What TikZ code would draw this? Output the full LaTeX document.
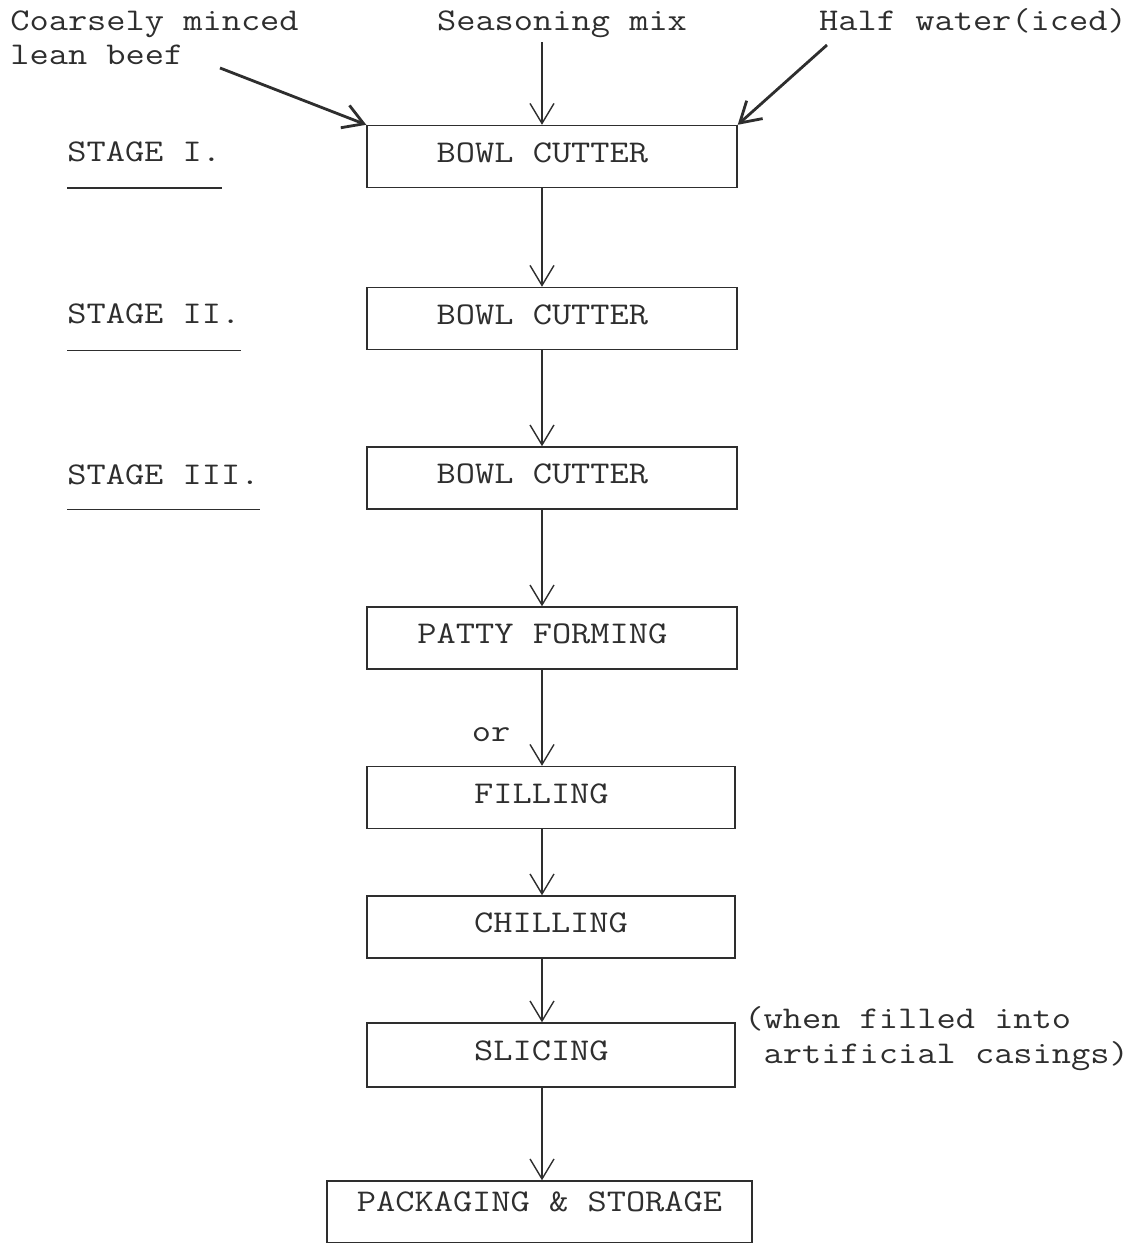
\documentclass[tikz,border=0pt]{standalone}
\usepackage{fontspec}
\setmonofont{Latin Modern Mono}[FakeStretch=1.18]
\usetikzlibrary{arrows.meta,positioning}
\definecolor{ink}{gray}{0.18}

\begin{document}
\begin{tikzpicture}[->,>={Straight Barb[length=4mm,width=4.8mm]},
        font=\ttfamily\fontsize{18pt}{19.8pt}\selectfont, text=ink,
        box/.style={draw=ink, line width=0.8pt, minimum width=7.4cm,
                    minimum height=1.24cm, inner sep=0pt, text depth=0.16cm},
        flow/.style={draw=ink, line width=0.8pt},
        feed/.style={draw=ink, line width=1.6pt},
        stage/.style={anchor=base west, inner sep=0pt},
        rule/.style={-, draw=ink, line width=0.8pt}]

\useasboundingbox (0,0) rectangle (22.76,-24.86);

% process boxes
\node (b1) [box] at (11.04,-3.13) {BOWL CUTTER\phantom{X}};
\node (b2) [box] at (11.04,-6.37) {BOWL CUTTER\phantom{X}};
\node (b3) [box] at (11.04,-9.56) {BOWL CUTTER\phantom{X}};
\node (b4) [box] at (11.04,-12.76) {PATTY FORMING\phantom{X}};
\node (b5) [box, minimum width=7.36cm] at (11.02,-15.95) {FILLING\phantom{X}};
\node (b6) [box, minimum width=7.36cm] at (11.02,-18.54) {CHILLING};
\node (b7) [box, minimum width=7.36cm, minimum height=1.28cm] at (11.02,-21.10) {SLICING\phantom{X}};
\node (b8) [box, minimum width=8.5cm, text depth=0.4cm] at (10.79,-24.24) {PACKAGING \& STORAGE};

% inputs
\node (beef) [anchor=north west, align=left, inner sep=0pt] at (0.2,-0.2) {Coarsely minced\\lean beef};
\node (mix) [anchor=base, inner sep=2pt] at (11.24,-0.62) {Seasoning mix};
\node (water) [anchor=base] at (19.46,-0.62) {Half water(iced)};
\coordinate (col) at (10.84,0);
\coordinate (beefend) at (4.4,-1.36);
\coordinate (waterend) at (16.54,-0.9);

\draw[feed] (beefend) -- (b1.north west);
\draw[feed] (waterend) -- (b1.north east);
\draw[flow] (mix.south -| col) -- (b1.north -| col);

% main line
\foreach \from/\to in {b1/b2, b2/b3, b3/b4, b4/b5, b5/b6, b6/b7, b7/b8}
  \draw[flow] (\from.south -| col) -- (\to.north -| col);

% stages
\node (s1) [stage] at (1.34,-3.24) {STAGE I.};
\node (s2) [stage] at (1.34,-6.48) {STAGE II.};
\node (s3) [stage] at (1.34,-9.68) {STAGE III.};
\draw[rule] (s1.west |- b1.south) -- ++(3.1,0);
\draw[rule] (s2.west |- b2.south) -- ++(3.48,0);
\draw[rule] (s3.west |- b3.south) -- ++(3.86,0);

% notes
\node (or) [anchor=base] at (9.82,-14.82) {or};
\node (note) [anchor=north west, align=left, inner sep=0pt] at (14.88,-20.12)
  {(when filled into\\\phantom{(}artificial casings)};

\end{tikzpicture}
\end{document}
